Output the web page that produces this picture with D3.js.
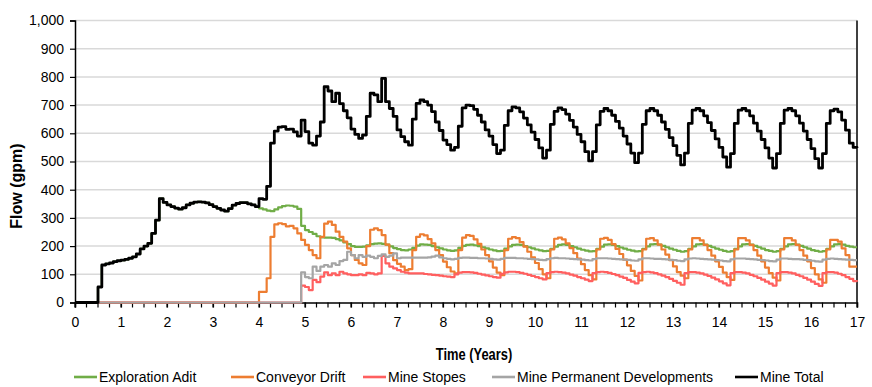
<!DOCTYPE html>
<html>
<head>
<meta charset="utf-8">
<script src="https://cdn.jsdelivr.net/npm/d3@7/dist/d3.min.js"></script>
<style>
  body { margin: 0; background: #fff; }
  text { font-family: "Liberation Sans", Arial, sans-serif; fill: #000; }
</style>
</head>
<body>
<div id="chart"></div>
<script>
// monthly values, index i -> year i/12, 0..17
const seriesNames = ["Exploration Adit", "Conveyor Drift", "Mine Stopes", "Mine Permanent Developments", "Mine Total"];
const seriesColors = ["#70ad47", "#ed7d31", "#ff5f5f", "#a5a5a5", "#000000"];

const explorationAdit = [
  0,0,0,0,0,0,55,133,137,140,145,148,
  150,153,157,162,172,190,200,210,245,292,368,355,
  346,340,335,331,336,346,352,356,357,356,353,347,
  340,334,328,324,333,345,351,354,354,350,346,340,
  334,330,326,324,330,337,342,344,343,340,332,272,
  257,250,243,235,231,230,230,229,225,220,213,207,
  200,197,197,198,203,207,209,210,208,205,199,193,
  189,186,185,188,194,202,206,205,204,200,196,192,
  188,185,183,185,194,201,204,205,203,200,196,192,
  188,185,182,183,191,199,204,205,204,200,196,192,
  188,185,182,183,190,198,204,206,204,200,196,191,
  187,184,181,182,190,198,205,206,204,200,195,191,
  187,184,181,182,190,199,206,207,205,201,196,191,
  187,183,180,182,190,199,206,207,205,201,196,191,
  187,183,180,182,190,199,206,207,205,201,196,191,
  186,183,180,182,190,199,206,207,205,201,196,191,
  186,183,180,182,190,199,206,207,205,201,198,196,
  196
];

const conveyorDrift = [
  0,0,0,0,0,0,0,0,0,0,0,0,
  0,0,0,0,0,0,0,0,0,0,0,0,
  0,0,0,0,0,0,0,0,0,0,0,0,
  0,0,0,0,0,0,0,0,0,0,0,0,
  38,38,86,233,277,281,278,270,272,263,245,222,
  204,186,168,157,233,280,287,275,251,233,216,192,
  168,151,139,133,200,258,263,257,239,205,175,150,
  137,127,115,118,186,233,242,238,225,210,186,168,
  145,125,110,103,186,230,239,236,224,208,188,168,
  146,124,106,97,186,226,232,228,214,198,180,160,
  140,118,100,86,188,226,230,224,210,193,175,156,
  136,115,97,82,188,226,229,222,207,190,172,152,
  132,112,94,78,188,226,228,220,205,188,170,150,
  128,108,95,86,188,228,228,220,204,186,166,146,
  126,106,90,80,188,228,228,220,204,186,166,146,
  124,104,88,78,188,228,228,220,204,186,166,146,
  122,100,82,70,188,222,222,216,192,168,127,127,
  127
];

const mineStopes = [
  0,0,0,0,0,0,0,0,0,0,0,0,
  0,0,0,0,0,0,0,0,0,0,0,0,
  0,0,0,0,0,0,0,0,0,0,0,0,
  0,0,0,0,0,0,0,0,0,0,0,0,
  0,0,0,0,0,0,0,0,0,0,0,60,
  55,44,80,72,92,107,97,103,97,109,103,100,
  97,97,100,97,105,103,100,103,165,139,127,121,
  115,109,106,103,103,103,103,101,100,98,97,95,
  93,92,90,100,106,108,108,107,105,102,99,96,
  93,90,88,102,107,109,109,108,105,102,98,94,
  90,86,82,104,108,109,108,106,103,99,95,90,
  86,81,76,104,108,109,108,105,101,97,92,87,
  80,74,68,105,108,109,107,104,100,95,90,84,
  77,70,63,104,108,108,106,103,99,94,88,82,
  75,68,61,104,108,108,106,103,98,93,87,81,
  74,67,60,104,108,108,106,103,98,93,87,81,
  74,66,59,104,108,108,106,102,97,90,84,76,
  74
];

const minePermanentDev = [
  0,0,0,0,0,0,0,0,0,0,0,0,
  0,0,0,0,0,0,0,0,0,0,0,0,
  0,0,0,0,0,0,0,0,0,0,0,0,
  0,0,0,0,0,0,0,0,0,0,0,0,
  0,0,0,0,0,0,0,0,0,0,0,107,
  90,86,127,112,127,133,127,139,133,147,151,180,
  168,157,168,162,166,162,157,165,171,162,166,174,
  157,159,159,159,159,159,159,159,160,163,166,160,
  157,155,153,155,158,159,159,158,158,157,157,156,
  155,153,152,155,158,158,158,157,157,156,155,154,
  153,151,150,154,157,158,157,157,156,155,154,153,
  152,150,149,154,157,157,157,156,155,154,153,152,
  151,149,148,153,157,157,156,155,155,154,153,151,
  150,148,147,153,156,157,156,155,154,153,152,150,
  149,147,146,153,156,156,156,155,154,153,151,150,
  149,147,146,152,156,156,155,154,154,153,151,150,
  148,146,145,152,155,156,155,154,153,152,151,150,
  150
];

const mineTotal = [
  0,0,0,0,0,0,55,133,137,140,145,148,
  150,153,157,162,172,190,200,210,245,292,368,355,
  346,340,335,331,336,346,352,356,357,356,353,347,
  340,334,328,324,333,345,351,354,354,350,346,340,
  368,366,412,565,608,622,624,614,615,605,590,647,
  606,565,558,590,640,765,750,712,742,705,680,655,
  615,596,582,594,660,742,736,712,795,712,688,660,
  612,588,570,558,650,706,718,712,700,677,640,610,
  576,560,540,550,625,690,700,698,685,664,640,612,
  590,560,528,540,628,680,694,690,676,654,630,604,
  578,548,512,540,632,678,690,684,668,646,622,596,
  570,535,502,535,630,678,688,680,664,642,618,590,
  562,530,496,530,632,680,688,680,664,640,614,585,
  556,522,488,530,635,682,688,680,662,638,610,580,
  550,516,480,528,635,682,688,680,662,636,608,578,
  548,512,477,528,635,682,688,680,662,636,608,578,
  546,510,477,528,635,680,686,676,647,611,565,550,
  548
];

const yTicks = [0,100,200,300,400,500,600,700,800,900,1000];
const xTicks = [0,1,2,3,4,5,6,7,8,9,10,11,12,13,14,15,16,17];
const xTitle = "Time (Years)";
const yTitle = "Flow (gpm)";

const allSeries = [explorationAdit, conveyorDrift, mineStopes, minePermanentDev, mineTotal];

// layout
const W = 872, H = 387;
const plot = { left: 75, right: 857, top: 20.5, bottom: 302.5 };
const legendX = [74, 231, 363, 492, 735];

const svg = d3.select("#chart").append("svg")
  .attr("width", W).attr("height", H);

const x = d3.scaleLinear().domain([0, 17]).range([plot.left, plot.right]);
const y = d3.scaleLinear().domain([0, 1000]).range([plot.bottom, plot.top]);

// gridlines
svg.append("g")
  .selectAll("line")
  .data(yTicks.filter(d => d > 0))
  .join("line")
    .attr("x1", plot.left).attr("x2", plot.right)
    .attr("y1", d => y(d)).attr("y2", d => y(d))
    .attr("stroke", "#d9d9d9").attr("stroke-width", 1.5);

// right border
svg.append("line")
  .attr("x1", plot.right).attr("x2", plot.right)
  .attr("y1", plot.top).attr("y2", plot.bottom)
  .attr("stroke", "#404040").attr("stroke-width", 2);

// y axis
const yAxis = svg.append("g")
  .attr("transform", `translate(${plot.left},0)`)
  .call(d3.axisLeft(y).tickValues(yTicks).tickFormat(d3.format(",")).tickSize(5).tickPadding(6));
yAxis.select(".domain").attr("stroke", "#000").attr("stroke-width", 1.5);
yAxis.selectAll(".tick line").attr("stroke", "#000").attr("stroke-width", 1.2);
yAxis.selectAll(".tick text").attr("font-size", 14).attr("font-family", null);

// x axis minor ticks (quarters)
const minorTicks = d3.range(0, 17 * 4 + 1).map(i => i / 4);
svg.append("g")
  .selectAll("line")
  .data(minorTicks)
  .join("line")
    .attr("x1", d => x(d)).attr("x2", d => x(d))
    .attr("y1", plot.bottom).attr("y2", plot.bottom + 5)
    .attr("stroke", "#000").attr("stroke-width", 1.2);

const xAxis = svg.append("g")
  .attr("transform", `translate(0,${plot.bottom})`)
  .call(d3.axisBottom(x).tickValues(xTicks).tickFormat(d3.format("d")).tickSize(5).tickPadding(10));
xAxis.select(".domain").attr("stroke", "#000").attr("stroke-width", 1.5);
xAxis.selectAll(".tick line").attr("stroke", "#000").attr("stroke-width", 1.2);
xAxis.selectAll(".tick text").attr("font-size", 14).attr("font-family", null);

// series
const line = d3.line()
  .x((d, i) => x(i / 12))
  .y(d => y(d))
  .curve(d3.curveStepAfter);

svg.append("g")
  .selectAll("path")
  .data(allSeries)
  .join("path")
    .attr("d", d => line(d))
    .attr("fill", "none")
    .attr("stroke", (d, i) => seriesColors[i])
    .attr("stroke-width", (d, i) => i === 4 ? 2.8 : 2.2)
    .attr("stroke-linejoin", "round");

// axis titles (condensed like the original's narrow face)
svg.append("text")
  .attr("transform", `translate(${(plot.left + plot.right) / 2 + 8},360) scale(0.76,1)`)
  .attr("text-anchor", "middle")
  .attr("font-size", 17)
  .attr("font-weight", "bold")
  .text(xTitle);

svg.append("text")
  .attr("transform", `translate(22,186) rotate(-90)`)
  .attr("text-anchor", "middle")
  .attr("font-size", 16)
  .attr("font-weight", "bold")
  .text(yTitle);

// legend
const legend = svg.append("g").attr("transform", "translate(0,377)");
seriesNames.forEach((name, i) => {
  const g = legend.append("g").attr("transform", `translate(${legendX[i]},0)`);
  g.append("line")
    .attr("x1", 0).attr("x2", 23)
    .attr("y1", 0).attr("y2", 0)
    .attr("stroke", seriesColors[i]).attr("stroke-width", 2.6);
  g.append("text")
    .attr("x", 25).attr("y", 5)
    .attr("font-size", 14)
    .text(name);
});
</script>
</body>
</html>
